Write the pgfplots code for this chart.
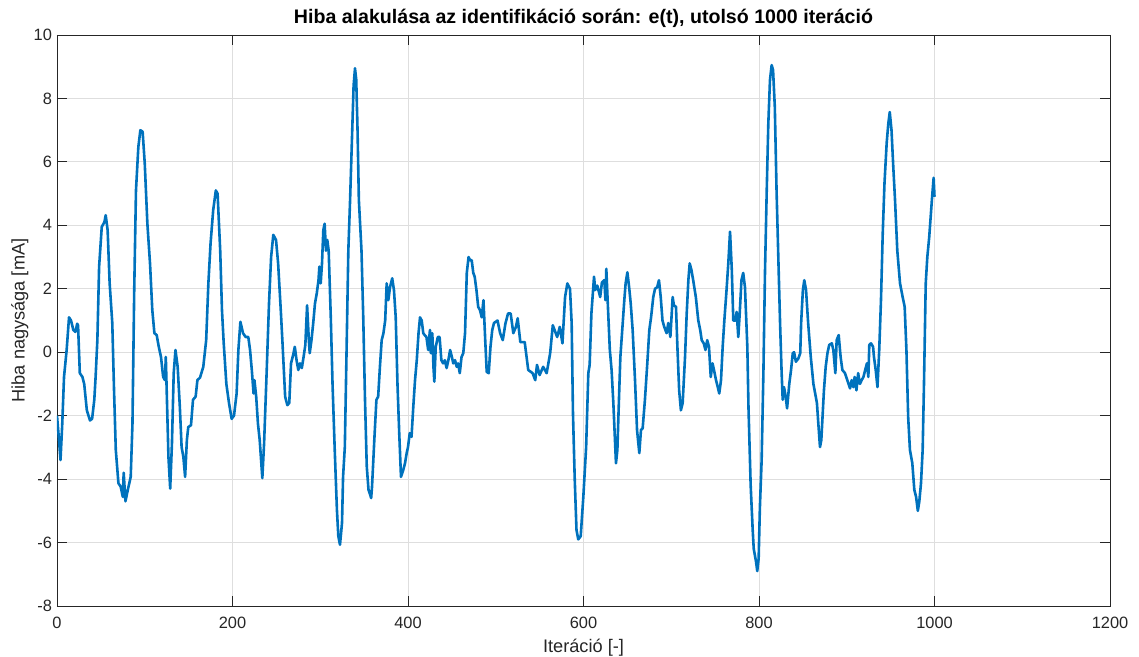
\documentclass[border=0pt]{standalone}
\usepackage{fontspec}
\setmainfont{Liberation Sans}
\usepackage{pgfplots}
\pgfplotsset{compat=1.18}
\definecolor{mblue}{RGB}{0,114,189}
\definecolor{axgray}{RGB}{38,38,38}
\pgfplotstableread{
x y
0 -2.0
2 -2.67
4 -3.4
6 -2.25
8 -0.78
11 0.07
13.7 1.1
16 1.0
18.6 0.7
21 0.64
23 0.9
24 0.85
26 -0.66
29 -0.78
31 -1.0
34 -1.83
37.6 -2.15
40 -2.1
42.5 -1.5
44 -0.78
46 0.38
48 2.7
51 3.95
54 4.1
55.5 4.32
57.7 3.85
60 2.17
63 0.92
65 -1.2
67 -3.08
70 -4.13
72.6 -4.24
75 -4.56
76 -3.8
78 -4.7
81 -4.3
84 -3.93
86 -2.25
88 1.96
90 5.1
92.7 6.47
95 7.0
97.6 6.95
100 5.95
103 4.05
106 2.8
108.6 1.33
111 0.6
113.6 0.54
116 0.17
118.5 -0.15
121 -0.78
123 -0.88
124 -0.15
125 -1.2
127 -3.3
129 -4.3
131 -2.87
133 -0.66
135 0.07
137.5 -0.46
140 -1.73
142 -2.99
144 -3.3
146 -3.93
148 -2.77
149.6 -2.36
152.7 -2.3
155 -1.5
158 -1.4
160 -0.88
163 -0.8
166.7 -0.46
170 0.38
172.5 2.17
175 3.43
178 4.48
181 5.1
183 5.0
186 3.2
188 1.33
190 0.28
193 -1.0
196 -1.6
199 -2.1
201.7 -2.0
204.7 -1.3
206.7 0.07
209 0.96
212 0.6
215 0.48
218 0.48
220 0.07
222 -0.56
224 -1.3
225 -0.88
227 -1.4
229 -2.25
231 -2.77
234 -3.97
236 -2.87
239 -0.56
241.6 1.54
244 3.0
246.5 3.7
249.6 3.54
252 2.8
255 1.33
257 0.28
260 -1.4
262.5 -1.67
264.7 -1.6
266.7 -0.35
269 -0.1
271 0.17
273 -0.25
275 -0.56
277 -0.35
279 -0.5
281 -0.15
283 0.23
285 1.48
287 0.38
288 -0.03
290 0.38
292 0.92
294 1.54
296 1.85
298 2.27
299 2.7
300.5 2.17
302 2.8
303.5 3.85
305 4.05
306.5 3.2
308 3.54
309.6 3.2
312 1.1
314 -1.0
316.5 -3.08
319 -4.97
320.6 -5.8
322.5 -6.07
324.8 -5.38
326 -3.93
328 -2.99
330 0.07
332 3.2
334 4.8
336 6.6
338 8.4
339.6 8.95
341 8.6
342.5 7.0
344 4.8
347 3.2
349 1.1
351 -1.5
353 -3.6
355 -4.34
357 -4.5
358 -4.6
359 -4.24
361.6 -2.77
364 -1.5
366 -1.4
368 -0.46
370 0.38
372 0.6
374 1.0
375.7 2.17
377.6 1.64
379.5 2.05
382 2.33
384 1.96
386 1.1
388 -1.0
390 -2.55
392 -3.93
394.7 -3.7
396.6 -3.5
398.5 -3.18
400 -2.99
402 -2.55
404 -2.67
406 -1.73
408 -0.88
410 -0.25
412 0.6
413.7 1.1
415.6 1.0
417.4 0.6
419 0.54
421 0.48
423 0.07
425 0.7
426 -0.03
427.7 0.6
429 -0.46
430 -0.93
431.6 0.17
434 0.48
436 0.48
438 -0.25
440 -0.35
442 -0.25
444 -0.5
446 -0.25
448 0.07
450 -0.15
451.6 -0.35
453.6 -0.25
455.5 -0.46
457 -0.35
459 -0.66
461 -0.15
463 -0.03
465 0.6
467 2.5
469 3.0
470.7 2.9
472.6 2.9
474.4 2.5
476 2.38
478 1.96
480 1.43
482 1.33
484 1.1
486 1.64
488 0.38
489.7 -0.62
492 -0.66
494 0.17
496 0.7
498 0.92
502 1.0
505 0.6
508 0.38
511 0.9
514 1.22
517 1.22
520 0.6
523 0.8
525 1.07
528 0.32
533 0.32
537 -0.56
542 -0.66
545 -0.88
547 -0.4
550 -0.72
554 -0.46
558 -0.66
562 -0.03
565 0.85
570 0.48
573 0.8
576 0.28
579 1.74
581.6 2.17
584.6 2.0
586.5 0.92
588 -1.93
590 -4.0
592 -5.6
594 -5.9
596.8 -5.8
599.8 -4.56
603 -2.99
605.5 -0.66
607 -0.4
609 1.22
612 2.38
613.4 1.96
615.7 2.1
619 1.74
621 2.2
623.7 2.27
625 1.64
626 2.63
627.5 1.64
630 0.07
632 -0.56
634 -1.6
636 -2.87
637 -3.5
638.6 -3.08
640.5 -1.4
642 -0.15
644.7 0.92
646.5 1.64
648 2.17
650 2.52
652 2.05
653.8 1.54
656 0.7
658.7 -0.88
661 -2.45
663.6 -3.18
665.5 -2.45
667.4 -2.4
670 -1.5
672.7 -0.35
675 0.7
677 1.1
679.5 1.74
681.5 2.0
684 2.05
686 2.27
688 1.74
690 1.0
692 0.8
694.7 0.6
696.6 0.92
699 0.48
701.6 1.74
703 1.48
705.4 1.43
707 0.17
709 -1.2
711 -1.83
713 -1.6
715.7 -0.15
717.6 1.22
719.5 2.27
721 2.8
723 2.59
725 2.27
728 1.74
730.8 1.0
733 0.7
734.7 0.38
737 0.28
739 0.07
741 0.38
743 0.17
745 -0.78
747 -0.35
748.7 -0.56
751 -0.88
753 -1.1
754.7 -1.3
756.7 -0.88
758.6 0.17
760.5 1.0
763 1.96
765 2.8
767 3.8
769 2.59
770.7 1.0
773 1.0
774.5 1.27
776.4 0.48
778 1.22
780 2.27
782 2.5
784 2.05
786.7 0.17
788 -1.73
790.5 -4.2
792.8 -5.6
794 -6.2
796.6 -6.6
798 -6.9
799.6 -6.5
801 -4.9
803 -3.4
805 -0.66
806.8 2.5
808.8 5.1
810.6 7.2
812.5 8.58
814.4 9.05
816 8.9
818 7.74
820 5.1
822 3.0
824 0.92
825.8 -0.66
827 -1.5
828.5 -1.1
830.4 -1.4
832 -1.77
834.5 -1.0
836.5 -0.56
838.5 -0.03
840 0.0
842 -0.3
844.8 -0.2
847 -0.03
848 0.92
850 1.96
851.6 2.27
853.6 1.96
856 0.92
859 -0.15
862 -1.0
864 -1.3
866 -1.6
867.6 -2.25
869.5 -2.99
871 -2.77
874 -1.2
876 -0.46
878 -0.03
880 0.23
883 0.28
884.7 0.07
887 -0.66
888.5 0.38
890.8 0.54
893 -0.15
895 -0.56
898 -0.66
900.6 -0.88
903.7 -1.14
905.6 -0.88
907.5 -1.1
909 -0.78
911 -1.2
913 -0.66
915 -1.0
917 -0.88
919 -0.78
921 -0.56
923 -0.35
924.6 -0.78
925.7 0.23
927.6 0.28
930 0.17
931 -0.15
933 -0.56
935 -1.1
937 0.07
939 1.64
941 3.75
943 5.33
945.5 6.6
947.4 7.22
949 7.57
951 7.0
953 5.85
955 4.8
957.6 3.2
960.7 2.17
963.7 1.74
966 1.43
968 0.07
970 -2.05
972 -3.08
974.7 -3.5
977 -4.34
979 -4.56
981 -5.0
982.7 -4.7
984.6 -4.13
986.5 -3.08
988 -1.0
990 2.17
991.8 3.0
994 3.64
997 4.8
999 5.5
1000 4.9
}\errdata
\begin{document}
\begin{tikzpicture}
\begin{axis}[
  scale only axis,
  width=526.5pt, height=285.5pt,
  xmin=0, xmax=1200, ymin=-8, ymax=10,
  xtick={0,200,...,1200}, ytick={-8,-6,...,10},
  xtick pos=both, ytick pos=both, tick align=inside,
  major tick length=5pt,
  grid=major,
  major grid style={draw=black!13, line width=0.4pt},
  axis line style={draw=axgray, line width=0.4pt},
  tick style={draw=axgray, line width=0.4pt},
  /pgf/number format/assume math mode=true,
  /pgf/number format/set thousands separator={},
  tick label style={font=\fontsize{8.2}{9}\selectfont, text=axgray},
  xticklabel style={yshift=-2pt},
  yticklabel style={xshift=1pt},
  xlabel={Iteráció [-]},
  ylabel={Hiba nagysága [mA]},
  xlabel style={font=\fontsize{9.1}{10}\selectfont, text=axgray, at={(axis description cs:0.5,-0.0823)}, anchor=base},
  ylabel style={font=\fontsize{9.1}{10}\selectfont, text=axgray, at={(axis description cs:-0.0352,0.5)}, anchor=center},
]
\addplot[mblue, line width=1.3pt, line join=round] table[x=x,y=y] {\errdata};
\end{axis}
\node[font=\fontsize{9.8}{11}\selectfont\bfseries, text=black, anchor=base] at ([yshift=5.5pt]current axis.north) {Hiba alakulása az identifikáció során: e(t), utolsó 1000 iteráció};
\pgfresetboundingbox
\path[use as bounding box] ([shift={(-28.5pt,-25.5pt)}]current axis.south west) rectangle ([shift={(14.5pt,17.5pt)}]current axis.north east);
\end{tikzpicture}
\end{document}
